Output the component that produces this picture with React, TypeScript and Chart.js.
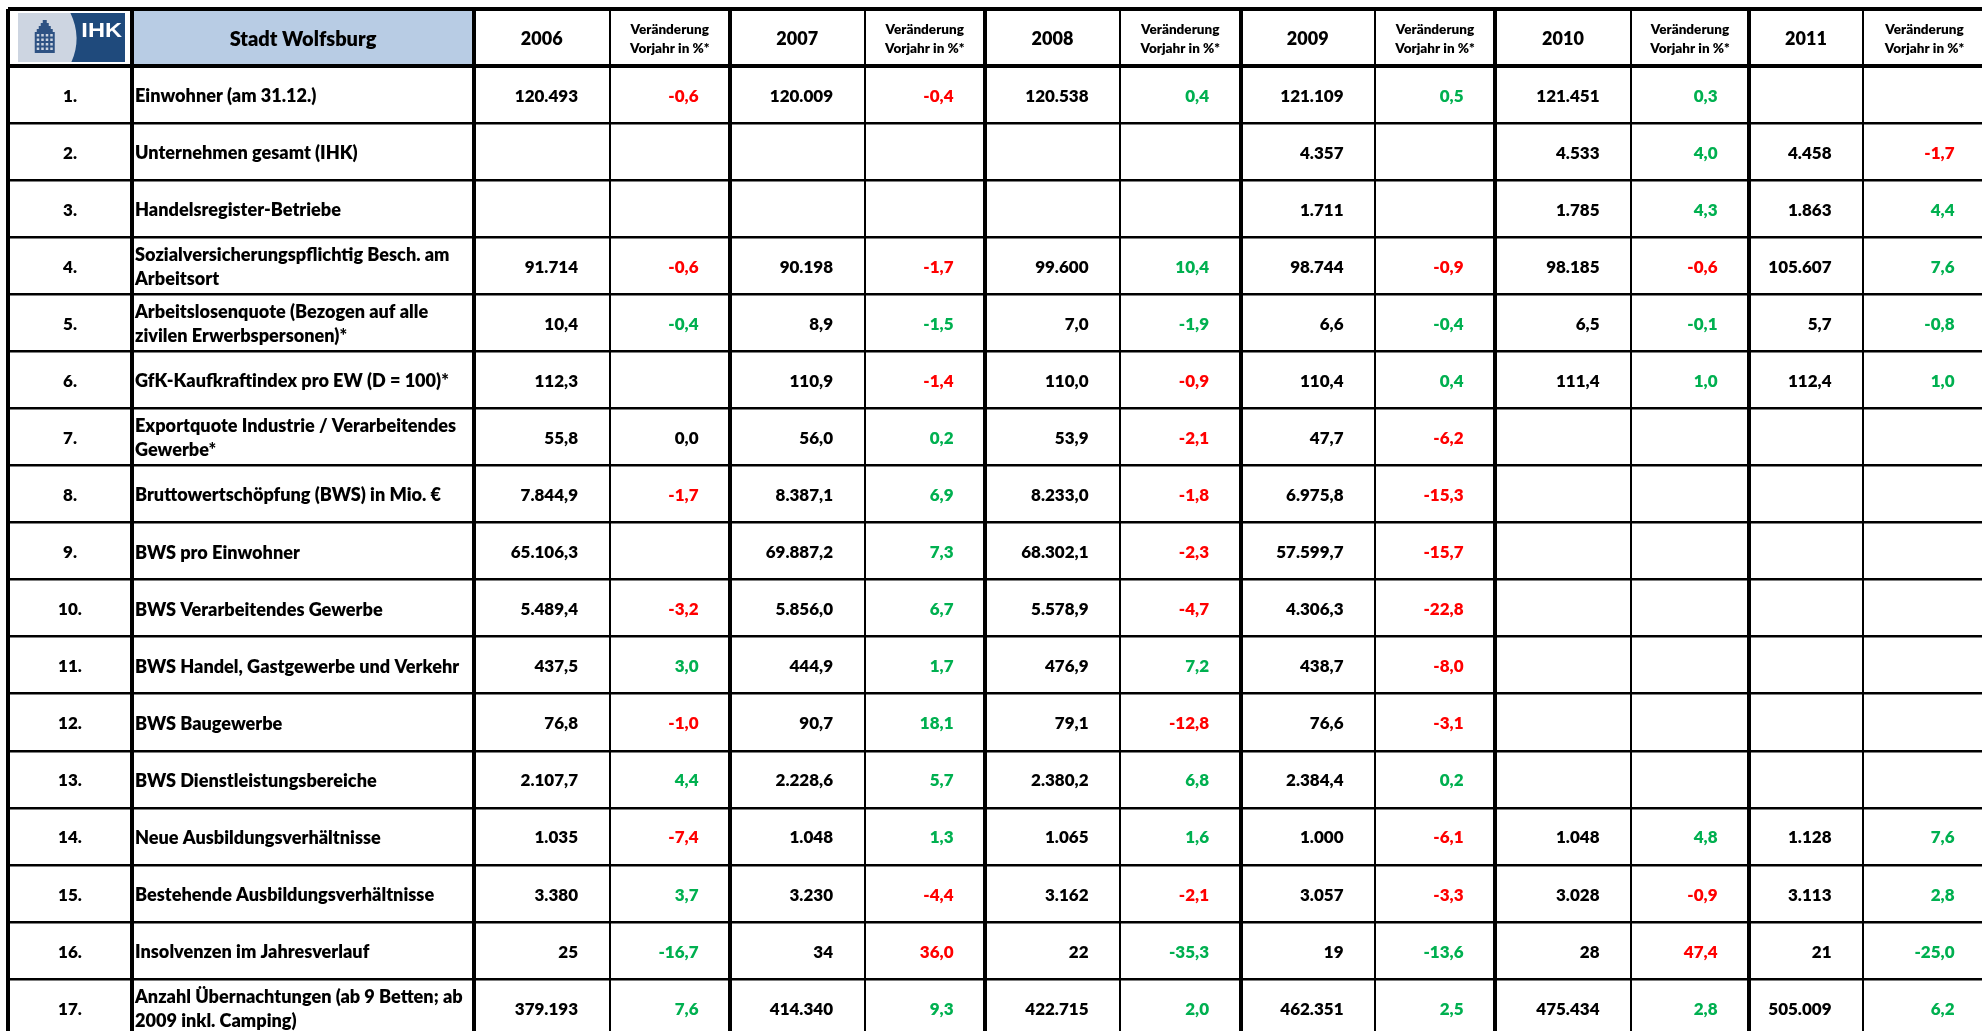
import React, { useEffect, useRef } from 'react';
import { Chart, registerables } from 'chart.js';

Chart.register(...registerables);

// ---------------- DATA ----------------
const TITLE = 'Stadt Wolfsburg';
const YEARS = ['2006', '2007', '2008', '2009', '2010', '2011'];
const CHANGE_HEADER = ['Veränderung', 'Vorjahr in %*'];

const ROW_LABELS = [
  'Einwohner (am 31.12.)',
  'Unternehmen gesamt (IHK)',
  'Handelsregister-Betriebe',
  'Sozialversicherungspflichtig Besch. am\nArbeitsort',
  'Arbeitslosenquote (Bezogen auf alle\nzivilen Erwerbspersonen)*',
  'GfK-Kaufkraftindex pro EW (D = 100)*',
  'Exportquote Industrie / Verarbeitendes\nGewerbe*',
  'Bruttowertschöpfung (BWS) in Mio. €',
  'BWS pro Einwohner',
  'BWS Verarbeitendes Gewerbe',
  'BWS Handel, Gastgewerbe und Verkehr',
  'BWS Baugewerbe',
  'BWS Dienstleistungsbereiche',
  'Neue Ausbildungsverhältnisse',
  'Bestehende Ausbildungsverhältnisse',
  'Insolvenzen im Jahresverlauf',
  'Anzahl Übernachtungen (ab 9 Betten; ab\n2009 inkl. Camping)',
];

// decimals shown for the yearly value of each row
const DECIMALS = [0, 0, 0, 0, 1, 1, 1, 1, 1, 1, 1, 1, 1, 0, 0, 0, 0];
// +1: an increase is good (green), -1: a decrease is good (green)
const GOOD_DIRECTION = [1, 1, 1, 1, -1, 1, 1, 1, 1, 1, 1, 1, 1, 1, 1, -1, 1];

const VALUES_2006 = [120493, null, null, 91714, 10.4, 112.3, 55.8, 7844.9, 65106.3, 5489.4, 437.5, 76.8, 2107.7, 1035, 3380, 25, 379193];
const CHANGE_2006 = [-0.6, null, null, -0.6, -0.4, null, 0.0, -1.7, null, -3.2, 3.0, -1.0, 4.4, -7.4, 3.7, -16.7, 7.6];
const VALUES_2007 = [120009, null, null, 90198, 8.9, 110.9, 56.0, 8387.1, 69887.2, 5856.0, 444.9, 90.7, 2228.6, 1048, 3230, 34, 414340];
const CHANGE_2007 = [-0.4, null, null, -1.7, -1.5, -1.4, 0.2, 6.9, 7.3, 6.7, 1.7, 18.1, 5.7, 1.3, -4.4, 36.0, 9.3];
const VALUES_2008 = [120538, null, null, 99600, 7.0, 110.0, 53.9, 8233.0, 68302.1, 5578.9, 476.9, 79.1, 2380.2, 1065, 3162, 22, 422715];
const CHANGE_2008 = [0.4, null, null, 10.4, -1.9, -0.9, -2.1, -1.8, -2.3, -4.7, 7.2, -12.8, 6.8, 1.6, -2.1, -35.3, 2.0];
const VALUES_2009 = [121109, 4357, 1711, 98744, 6.6, 110.4, 47.7, 6975.8, 57599.7, 4306.3, 438.7, 76.6, 2384.4, 1000, 3057, 19, 462351];
const CHANGE_2009 = [0.5, null, null, -0.9, -0.4, 0.4, -6.2, -15.3, -15.7, -22.8, -8.0, -3.1, 0.2, -6.1, -3.3, -13.6, 2.5];
const VALUES_2010 = [121451, 4533, 1785, 98185, 6.5, 111.4, null, null, null, null, null, null, null, 1048, 3028, 28, 475434];
const CHANGE_2010 = [0.3, 4.0, 4.3, -0.6, -0.1, 1.0, null, null, null, null, null, null, null, 4.8, -0.9, 47.4, 2.8];
const VALUES_2011 = [null, 4458, 1863, 105607, 5.7, 112.4, null, null, null, null, null, null, null, 1128, 3113, 21, 505009];
const CHANGE_2011 = [null, -1.7, 4.4, 7.6, -0.8, 1.0, null, null, null, null, null, null, null, 7.6, 2.8, -25.0, 6.2];

const VALUES = [VALUES_2006, VALUES_2007, VALUES_2008, VALUES_2009, VALUES_2010, VALUES_2011];
const CHANGES = [CHANGE_2006, CHANGE_2007, CHANGE_2008, CHANGE_2009, CHANGE_2010, CHANGE_2011];

// ---------------- LAYOUT ----------------
const W = 1982;
const H = 1031;
const TABLE_LEFT = 8;
const TABLE_TOP = 9;
const ROW_H = 57.06;
// column boundaries along the x scale (table units)
const COL_EDGES = [0, 124, 466, 601.5, 722, 856.5, 977, 1112, 1232.5, 1367, 1487, 1623, 1741, 1855, 1978];
const ROW_COUNT = ROW_LABELS.length + 1; // header + data rows

const FONT_FAMILY = 'Lato, "Open Sans", "DejaVu Sans", sans-serif';
const WEIGHT = '800';
const NUM_SIZE = 17;
const LABEL_SIZE = 18.1;
const TITLE_SIZE = 20;
const YEAR_SIZE = 18;
const SMALL_SIZE = 13.5;
const LINE_GAP = 24;
const CAP = 0.7165;
const RIGHT_PAD = 31.5;
const GREEN = '#00B050';
const RED = '#FF0000';
const HEADER_FILL = '#B8CCE4';

function fmt(v: number, dec: number): string {
  const neg = v < 0;
  const fixed = Math.abs(v).toFixed(dec);
  const [intPart, frac] = fixed.split('.');
  const grouped = intPart.replace(/\B(?=(\d{3})+(?!\d))/g, '.');
  return (neg ? '-' : '') + grouped + (frac ? ',' + frac : '');
}

function changeColor(v: number, row: number): string {
  if (v === 0) return '#000';
  return v * GOOD_DIRECTION[row] > 0 ? GREEN : RED;
}

function drawLogo(ctx: CanvasRenderingContext2D, x0: number, y0: number, x1: number, y1: number) {
  const lx = x0 + 10;
  const ly = y0 + 4;
  const lw = x1 - 7 - lx;
  const lh = y1 - 4 - ly;
  ctx.fillStyle = '#CDD5E1';
  ctx.fillRect(lx, ly, lw, lh);
  const bx = lx + lw * 0.49;
  ctx.fillStyle = '#1F4A7C';
  ctx.beginPath();
  ctx.moveTo(bx, ly);
  ctx.quadraticCurveTo(bx + lw * 0.11, ly + lh / 2, bx + 1, ly + lh);
  ctx.lineTo(lx + lw, ly + lh);
  ctx.lineTo(lx + lw, ly);
  ctx.closePath();
  ctx.fill();
  // IHK lettering
  ctx.save();
  ctx.fillStyle = '#FFFFFF';
  ctx.font = 'bold 20px "Liberation Sans", Arial, sans-serif';
  ctx.textAlign = 'right';
  ctx.textBaseline = 'alphabetic';
  ctx.translate(lx + lw - 3, ly + 24);
  ctx.scale(1.18, 1);
  ctx.fillText('IHK', 0, 0);
  ctx.restore();
  // building
  const cx = lx + lw * 0.25;
  const top = ly + 7;
  ctx.fillStyle = '#2E5283';
  ctx.fillRect(cx - 2, top, 4, 3);
  ctx.fillRect(cx - 4, top + 3, 8, 3);
  ctx.fillRect(cx - 6, top + 6, 12, 3);
  ctx.fillRect(cx - 8, top + 9, 16, 3);
  ctx.fillRect(cx - 10, top + 12, 20, 21);
  ctx.fillStyle = '#CDD5E1';
  for (let r = 0; r < 4; r++) {
    for (let c = 0; c < 4; c++) {
      ctx.fillRect(cx - 8 + c * 4.5, top + 14 + r * 4.5, 2.5, 2.5);
    }
  }
}

const tablePlugin = {
  id: 'tableCells',
  beforeDraw(chart: any) {
    const { ctx } = chart;
    const xs = chart.scales.x;
    const ys = chart.scales.y;
    ctx.save();
    ctx.fillStyle = HEADER_FILL;
    const x0 = xs.getPixelForValue(COL_EDGES[1]);
    const x1 = xs.getPixelForValue(COL_EDGES[2]);
    const y0 = ys.getPixelForValue(0);
    const y1 = ys.getPixelForValue(1);
    ctx.fillRect(x0, y0, x1 - x0, y1 - y0);
    ctx.restore();
  },
  afterDraw(chart: any) {
    const { ctx } = chart;
    const xs = chart.scales.x;
    const ys = chart.scales.y;
    const colL = (c: number) => xs.getPixelForValue(COL_EDGES[c]);
    const colR = (c: number) => xs.getPixelForValue(COL_EDGES[c + 1]);
    const colMid = (c: number) => (colL(c) + colR(c)) / 2;
    const rowMid = (r: number) => (ys.getPixelForValue(r) + ys.getPixelForValue(r + 1)) / 2;

    const text = (s: string, x: number, midY: number, align: CanvasTextAlign, size: number, color = '#000') => {
      ctx.font = `${WEIGHT} ${size}px ${FONT_FAMILY}`;
      ctx.fillStyle = color;
      ctx.textAlign = align;
      ctx.textBaseline = 'alphabetic';
      ctx.fillText(s, x, midY + (size * CAP) / 2 + 1);
    };

    ctx.save();
    // header row
    drawLogo(ctx, colL(0), ys.getPixelForValue(0), colR(0), ys.getPixelForValue(1));
    const hm = rowMid(0);
    text(TITLE, colMid(1), hm, 'center', TITLE_SIZE);
    YEARS.forEach((yr, i) => {
      const c = 2 + 2 * i;
      text(yr, colMid(c), hm, 'center', YEAR_SIZE);
      text(CHANGE_HEADER[0], colMid(c + 1), hm - 9.5, 'center', SMALL_SIZE);
      text(CHANGE_HEADER[1], colMid(c + 1), hm + 9.5, 'center', SMALL_SIZE);
    });

    // data rows
    ROW_LABELS.forEach((label, r) => {
      const m = rowMid(r + 1);
      text(`${r + 1}.`, colMid(0), m, 'center', NUM_SIZE);
      const lines = label.split('\n');
      lines.forEach((ln, k) => {
        const y = m + (k - (lines.length - 1) / 2) * LINE_GAP;
        text(ln, colL(1) + 3, y, 'left', LABEL_SIZE);
      });
      YEARS.forEach((_, i) => {
        const v = VALUES[i][r];
        if (v !== null && v !== undefined) {
          text(fmt(v, DECIMALS[r]), colR(2 + 2 * i) - RIGHT_PAD, m, 'right', NUM_SIZE);
        }
        const ch = CHANGES[i][r];
        if (ch !== null && ch !== undefined) {
          text(fmt(ch, 1), colR(3 + 2 * i) - RIGHT_PAD, m, 'right', NUM_SIZE, changeColor(ch, r));
        }
      });
    });
    ctx.restore();
  },
};

export default function App() {
  const ref = useRef<HTMLCanvasElement>(null);

  useEffect(() => {
    const canvas = ref.current;
    if (!canvas) return;
    const chart = new Chart(canvas, {
      type: 'scatter',
      data: { datasets: [] },
      options: {
        responsive: false,
        animation: false,
        devicePixelRatio: 1,
        events: [],
        layout: { padding: { left: TABLE_LEFT, top: TABLE_TOP, right: 0, bottom: 0 } },
        plugins: { legend: { display: false }, tooltip: { enabled: false } },
        scales: {
          x: {
            type: 'linear',
            min: 0,
            max: W - TABLE_LEFT,
            ticks: { display: false },
            border: { display: false },
            grid: {
              drawTicks: false,
              color: '#000',
              lineWidth: (ctx: any) => (ctx.index <= 2 || ctx.index % 2 === 0 ? 4 : 2),
            },
            afterBuildTicks: (axis: any) => {
              axis.ticks = COL_EDGES.filter((v) => v <= axis.max).map((v) => ({ value: v }));
            },
          },
          y: {
            type: 'linear',
            reverse: true,
            min: 0,
            max: (H - TABLE_TOP) / ROW_H,
            ticks: { display: false },
            border: { display: false },
            grid: {
              drawTicks: false,
              color: '#000',
              lineWidth: (ctx: any) => (ctx.index <= 1 ? 4 : 2.5),
            },
            afterBuildTicks: (axis: any) => {
              const t = [];
              for (let i = 0; i <= ROW_COUNT; i++) if (i <= axis.max) t.push({ value: i });
              axis.ticks = t;
            },
          },
        },
      },
      plugins: [tablePlugin],
    } as any);
    return () => chart.destroy();
  }, []);

  return (
    <div style={{ position: 'fixed', left: 0, top: 0, width: W, height: H, background: '#fff', overflow: 'hidden' }}>
      <canvas ref={ref} width={W} height={H} style={{ display: 'block', width: W, height: H }} />
    </div>
  );
}
